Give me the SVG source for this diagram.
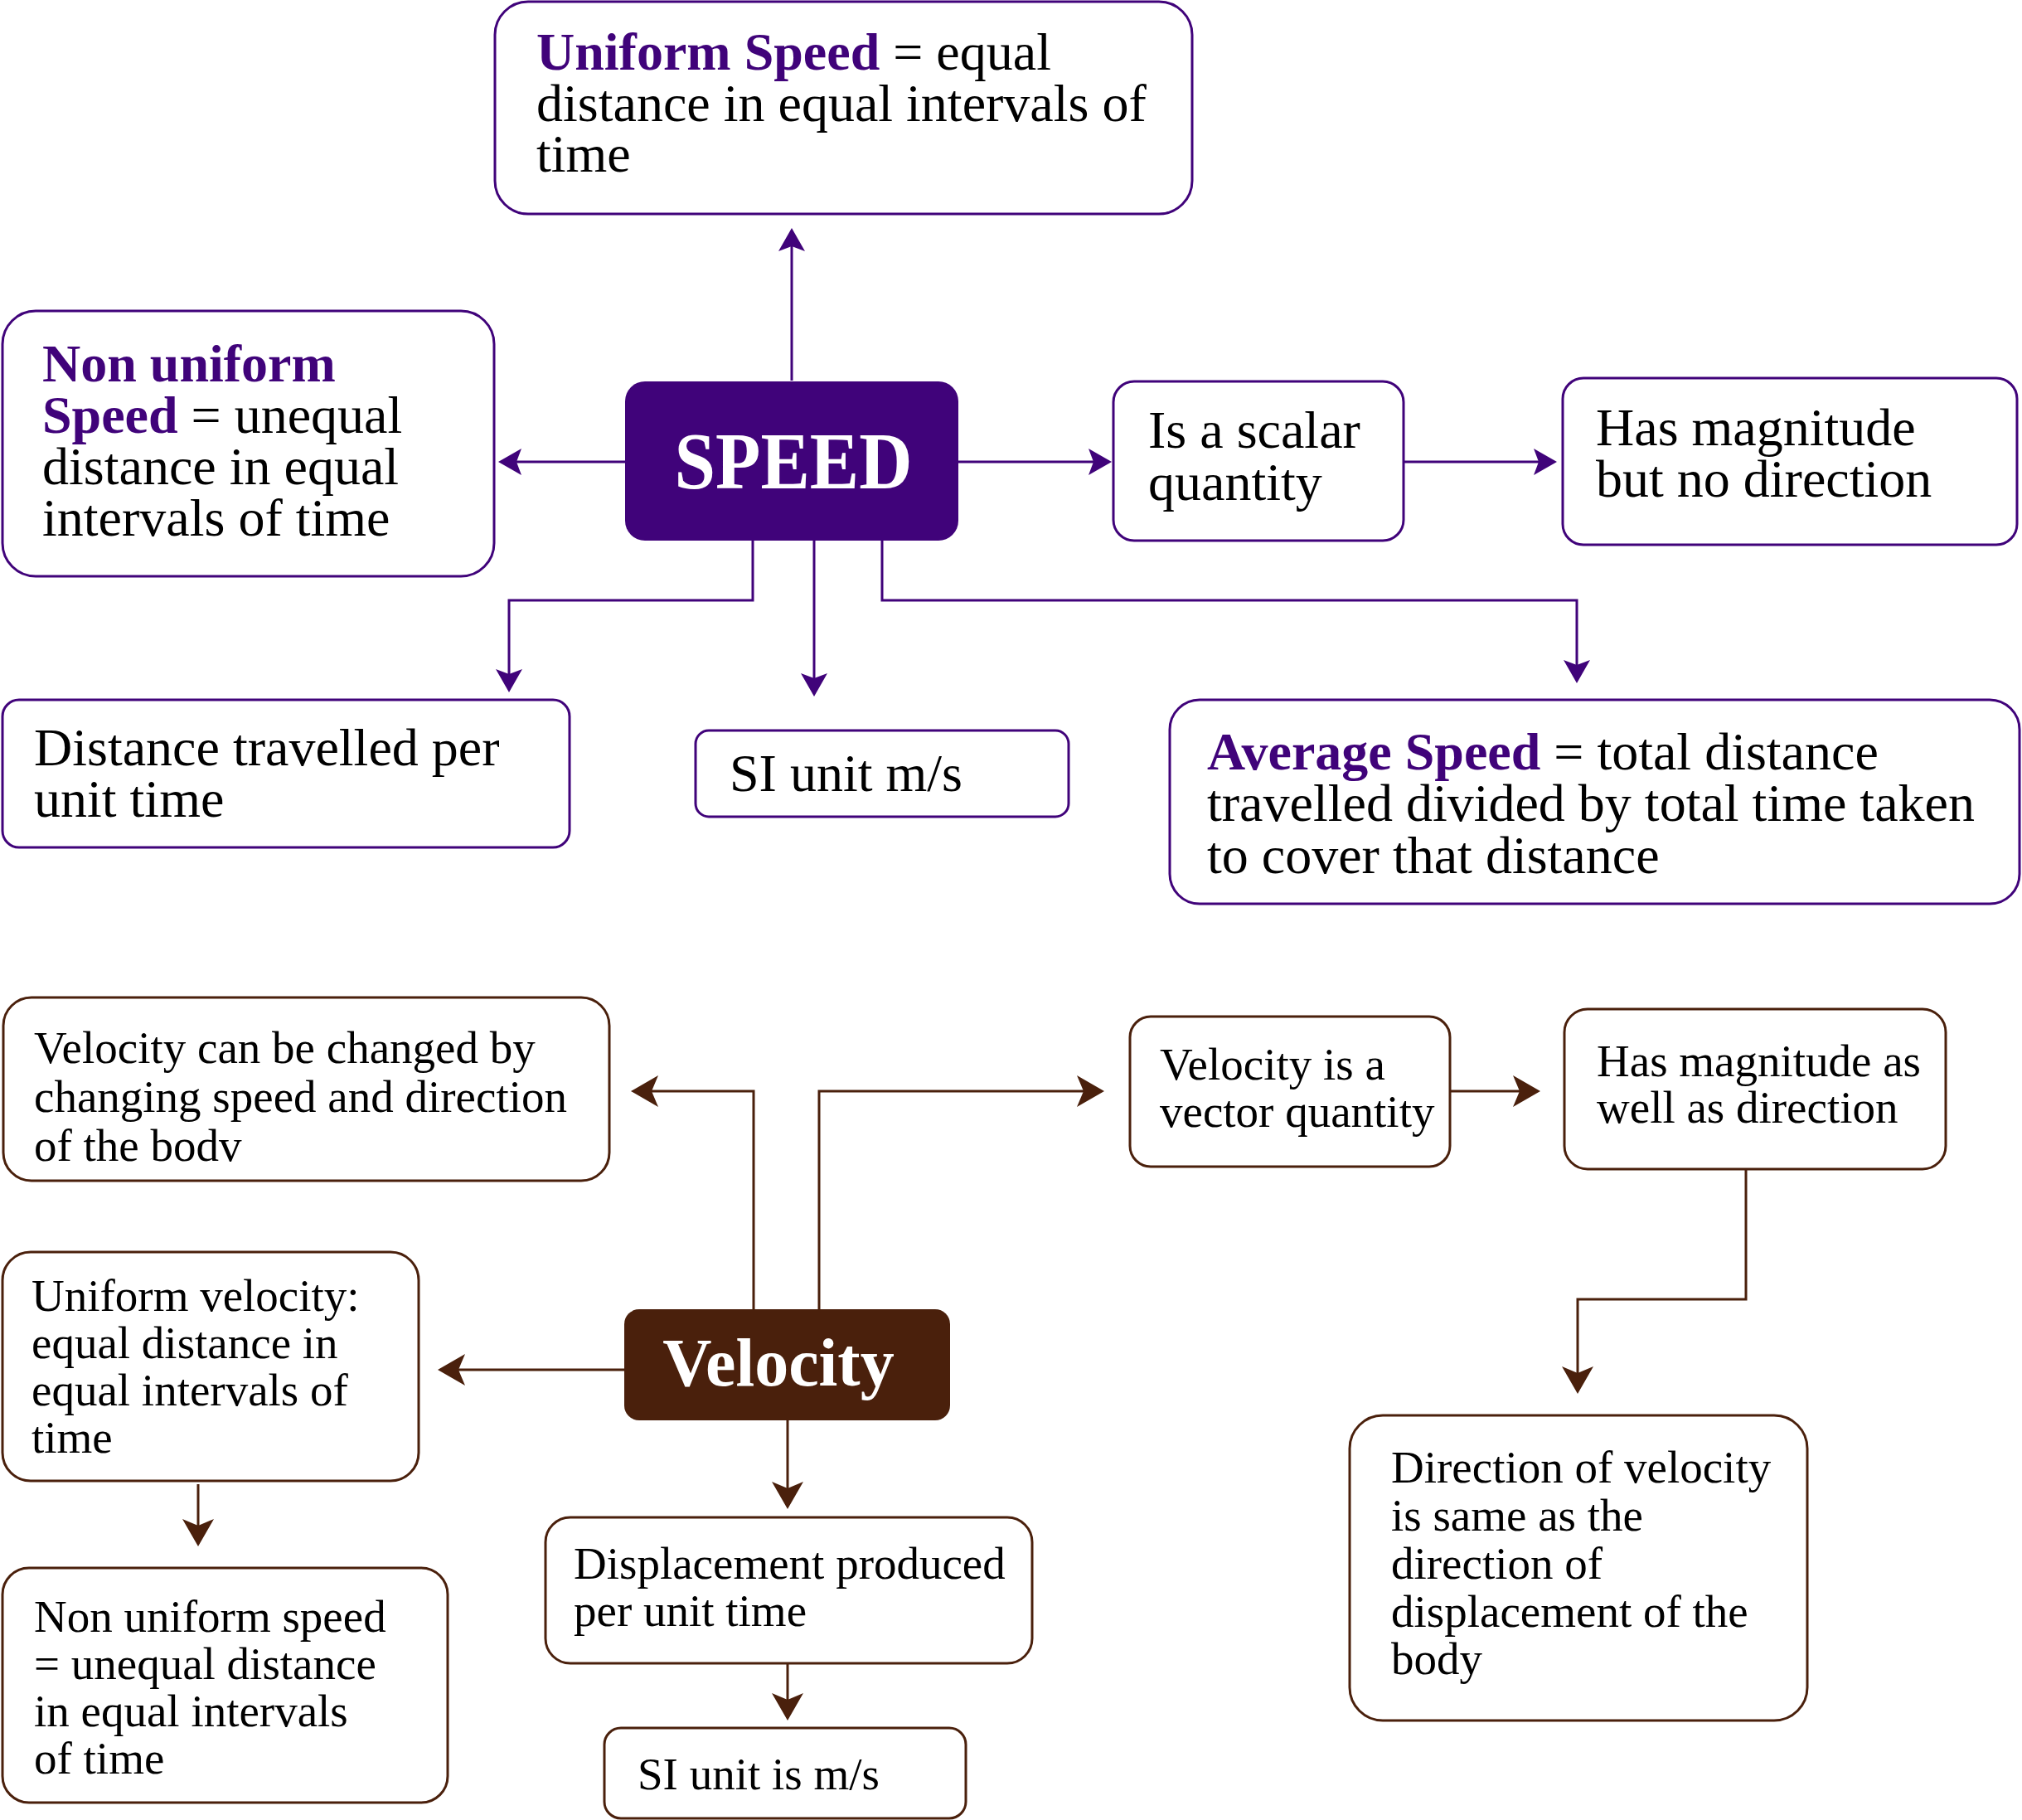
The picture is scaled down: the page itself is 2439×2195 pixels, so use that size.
<svg xmlns="http://www.w3.org/2000/svg" width="2439" height="2195" viewBox="0 0 2439 2195">
<defs>
<style>
.bg{fill:#ffffff}
.bp{fill:#ffffff;stroke:#40037a;stroke-width:3}
.bb{fill:#ffffff;stroke:#4a200c;stroke-width:3}
.t{font-family:"Liberation Serif","Times New Roman",serif;fill:#000000}
.w{font-family:"Liberation Serif","Times New Roman",serif;fill:#ffffff;font-weight:bold}
.s{font-size:64px}
.v{font-size:55px}
.k{font-weight:bold;fill:#40037a}
.cp{fill:none;stroke:#40037a;stroke-width:3}
.cb{fill:none;stroke:#4a200c;stroke-width:3}
</style>
<marker id="ap" viewBox="-30 -17 31 34" refX="-3" refY="0" markerWidth="31" markerHeight="34" orient="auto" markerUnits="userSpaceOnUse">
<path d="M0,0 L-28,-16 L-22,0 L-28,16 Z" fill="#40037a"/>
</marker>
<marker id="ab" viewBox="-35 -20 36 40" refX="-3" refY="0" markerWidth="36" markerHeight="40" orient="auto" markerUnits="userSpaceOnUse">
<path d="M0,0 L-33,-19 L-25,0 L-33,19 Z" fill="#4a200c"/>
</marker>
</defs>
<rect class="bg" x="0" y="0" width="2439" height="2195"/>

<g id="connectors">
<path class="cp" d="M955,459 L955,278" marker-end="url(#ap)"/>
<path class="cp" d="M754,557 L604,557" marker-end="url(#ap)"/>
<path class="cp" d="M1156,557 L1338,557" marker-end="url(#ap)"/>
<path class="cp" d="M1693,557 L1875,557" marker-end="url(#ap)"/>
<path class="cp" d="M908,652 L908,724 L614,724 L614,832" marker-end="url(#ap)"/>
<path class="cp" d="M982,652 L982,837" marker-end="url(#ap)"/>
<path class="cp" d="M1064,652 L1064,724 L1902,724 L1902,821" marker-end="url(#ap)"/>
<path class="cb" d="M909,1579 L909,1316 L764,1316" marker-end="url(#ab)"/>
<path class="cb" d="M988,1579 L988,1316 L1329,1316" marker-end="url(#ab)"/>
<path class="cb" d="M1749,1316 L1855,1316" marker-end="url(#ab)"/>
<path class="cb" d="M2106,1410 L2106,1567 L1903,1567 L1903,1678" marker-end="url(#ab)"/>
<path class="cb" d="M753,1652 L531,1652" marker-end="url(#ab)"/>
<path class="cb" d="M950,1713 L950,1817" marker-end="url(#ab)"/>
<path class="cb" d="M950,2006 L950,2072" marker-end="url(#ab)"/>
<path class="cb" d="M239,1790 L239,1862" marker-end="url(#ab)"/>
</g>

<g id="speed">
<rect x="754" y="460" width="402" height="192" rx="24" fill="#40037a"/>
<text class="w" transform="translate(957 589) scale(1 1.1)" text-anchor="middle" font-size="89">SPEED</text>
</g>

<g id="uniform-speed">
<rect class="bp" x="597" y="2" width="841" height="256" rx="40"/>
<text class="t s"><tspan x="647" y="84"><tspan class="k">Uniform Speed</tspan> = equal</tspan><tspan x="647" y="146">distance in equal intervals of</tspan><tspan x="647" y="207">time</tspan></text>
</g>

<g id="non-uniform-speed">
<rect class="bp" x="3" y="375" width="593" height="320" rx="40"/>
<text class="t s"><tspan x="51" y="460" class="k">Non uniform</tspan><tspan x="51" y="522"><tspan class="k">Speed</tspan> = unequal</tspan><tspan x="51" y="584">distance in equal</tspan><tspan x="51" y="646">intervals of time</tspan></text>
</g>

<g id="scalar">
<rect class="bp" x="1343" y="460" width="350" height="192" rx="25"/>
<text class="t s"><tspan x="1385" y="540">Is a scalar</tspan><tspan x="1385" y="603">quantity</tspan></text>
</g>

<g id="magnitude-no-direction">
<rect class="bp" x="1885" y="456" width="548" height="201" rx="25"/>
<text class="t s"><tspan x="1925" y="537">Has magnitude</tspan><tspan x="1925" y="599">but no direction</tspan></text>
</g>

<g id="distance-per-time">
<rect class="bp" x="3" y="844" width="684" height="178" rx="20"/>
<text class="t s"><tspan x="41" y="923">Distance travelled per</tspan><tspan x="41" y="985">unit time</tspan></text>
</g>

<g id="si-unit-speed">
<rect class="bp" x="839" y="881" width="450" height="104" rx="16"/>
<text class="t s" x="880" y="954">SI unit m/s</text>
</g>

<g id="average-speed">
<rect class="bp" x="1411" y="844" width="1025" height="246" rx="36"/>
<text class="t s"><tspan x="1456" y="928"><tspan class="k">Average Speed</tspan> = total distance</tspan><tspan x="1456" y="990">travelled divided by total time taken</tspan><tspan x="1456" y="1053">to cover that distance</tspan></text>
</g>

<g id="velocity">
<rect x="753" y="1579" width="393" height="134" rx="18" fill="#4a200c"/>
<text class="w" x="939" y="1671" text-anchor="middle" font-size="82">Velocity</text>
</g>

<g id="velocity-changed">
<rect class="bb" x="4" y="1203" width="731" height="221" rx="34"/>
<text class="t v"><tspan x="41" y="1282">Velocity can be changed by</tspan><tspan x="41" y="1341">changing speed and direction</tspan><tspan x="41" y="1400">of the bodv</tspan></text>
</g>

<g id="vector">
<rect class="bb" x="1363" y="1226" width="386" height="181" rx="25"/>
<text class="t v"><tspan x="1399" y="1302">Velocity is a</tspan><tspan x="1399" y="1359">vector quantity</tspan></text>
</g>

<g id="magnitude-direction">
<rect class="bb" x="1887" y="1217" width="460" height="193" rx="28"/>
<text class="t v"><tspan x="1926" y="1298">Has magnitude as</tspan><tspan x="1926" y="1354">well as direction</tspan></text>
</g>

<g id="direction">
<rect class="bb" x="1628" y="1707" width="552" height="368" rx="40"/>
<text class="t v"><tspan x="1678" y="1788">Direction of velocity</tspan><tspan x="1678" y="1846">is same as the</tspan><tspan x="1678" y="1904">direction of</tspan><tspan x="1678" y="1962">displacement of the</tspan><tspan x="1678" y="2019">body</tspan></text>
</g>

<g id="uniform-velocity">
<rect class="bb" x="3" y="1510" width="502" height="276" rx="34"/>
<text class="t v"><tspan x="38" y="1581">Uniform velocity:</tspan><tspan x="38" y="1638">equal distance in</tspan><tspan x="38" y="1695">equal intervals of</tspan><tspan x="38" y="1752">time</tspan></text>
</g>

<g id="non-uniform-velocity">
<rect class="bb" x="3" y="1891" width="537" height="283" rx="32"/>
<text class="t v"><tspan x="41" y="1968">Non uniform speed</tspan><tspan x="41" y="2025">= unequal distance</tspan><tspan x="41" y="2082">in equal intervals</tspan><tspan x="41" y="2139">of time</tspan></text>
</g>

<g id="displacement">
<rect class="bb" x="658" y="1830" width="587" height="176" rx="30"/>
<text class="t v"><tspan x="692" y="1904">Displacement produced</tspan><tspan x="692" y="1961">per unit time</tspan></text>
</g>

<g id="si-unit-velocity">
<rect class="bb" x="729" y="2084" width="436" height="109" rx="20"/>
<text class="t v" x="769" y="2158">SI unit is m/s</text>
</g>
</svg>
